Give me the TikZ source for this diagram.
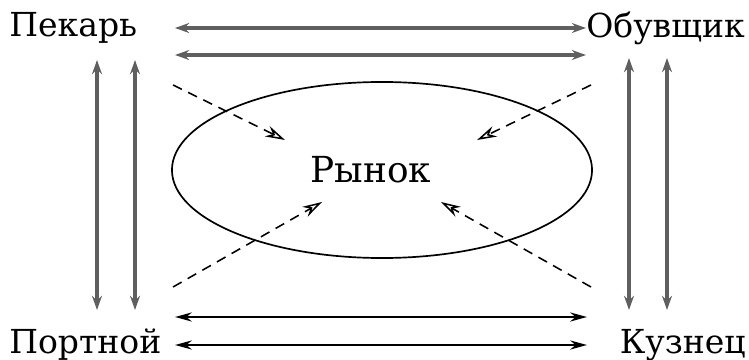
\documentclass[tikz,border=0pt]{standalone}
\usepackage{fontspec}
\setmainfont{DejaVu Serif}
\usepackage{xcolor}
\usetikzlibrary{shapes.geometric, arrows.meta, positioning, calc}
\definecolor{tradegray}{RGB}{95, 95, 95}
\tikzset{
    trader/.style={font=\fontsize{23.5}{26}\selectfont, inner sep=0pt},
    barter/.style={tradegray, line width=2.4pt, {Stealth[length=10pt, width=7pt]}-{Stealth[length=10pt, width=7pt]}},
    barterthin/.style={black, line width=1.3pt, {Stealth[length=12pt, width=6.5pt]}-{Stealth[length=12pt, width=6.5pt]}},
    tomarket/.style={black, line width=1.1pt, dash pattern=on 7pt off 5pt, -{Stealth[open, length=14pt, width=8pt]}}
}

\begin{document}
\begin{tikzpicture}[x=0.025cm, y=-0.025cm]
    \useasboundingbox (0,0) rectangle (749,360);
    % traders
    \node[trader, anchor=west] (pekar) at (9,28) {Пекарь};
    \node[trader, anchor=west] (obuv) at (586,28) {Обувщик};
    \node[trader, anchor=west] (portn) at (9,345) {Портной};
    \node[trader, anchor=east] (kuzn) at (746,345) {Кузнец};
    % market
    \node[draw, ellipse, line width=1.2pt, minimum width=10.5cm,
          minimum height=4.4cm] (rynok) at (382,170) {};
    \node[trader, font=\fontsize{25.5}{28}\selectfont] (rynoktxt) at (371,170) {Рынок};
    % end points of the barter lines
    \coordinate (T1) at (175,28);  \coordinate (T2) at (586,28);
    \coordinate (T3) at (175,55);  \coordinate (T4) at (586,55);
    \coordinate (B1) at (175,317); \coordinate (B2) at (587,317);
    \coordinate (B3) at (175,345); \coordinate (B4) at (587,345);
    \coordinate (L1) at (97,60);   \coordinate (L2) at (97,310);
    \coordinate (L3) at (135,60);  \coordinate (L4) at (135,310);
    \coordinate (R1) at (629,58);  \coordinate (R2) at (629,310);
    \coordinate (R3) at (667,58);  \coordinate (R4) at (667,310);
    \draw[barter] (T1) -- (T2);
    \draw[barter] (T3) -- (T4);
    \draw[barter] (L1) -- (L2);
    \draw[barter] (L3) -- (L4);
    \draw[barter] (R1) -- (R2);
    \draw[barter] (R3) -- (R4);
    \draw[barterthin] (B1) -- (B2);
    \draw[barterthin] (B3) -- (B4);
    % flows into the market
    \coordinate (D1) at (173,85);  \coordinate (E1) at (285,140);
    \coordinate (D2) at (591,85);  \coordinate (E2) at (477,140);
    \coordinate (D3) at (173,287); \coordinate (E3) at (322,202);
    \coordinate (D4) at (591,287); \coordinate (E4) at (441,202);
    \foreach \i in {1,2,3,4}
        \draw[tomarket] (D\i) -- (E\i);
\end{tikzpicture}
\end{document}
